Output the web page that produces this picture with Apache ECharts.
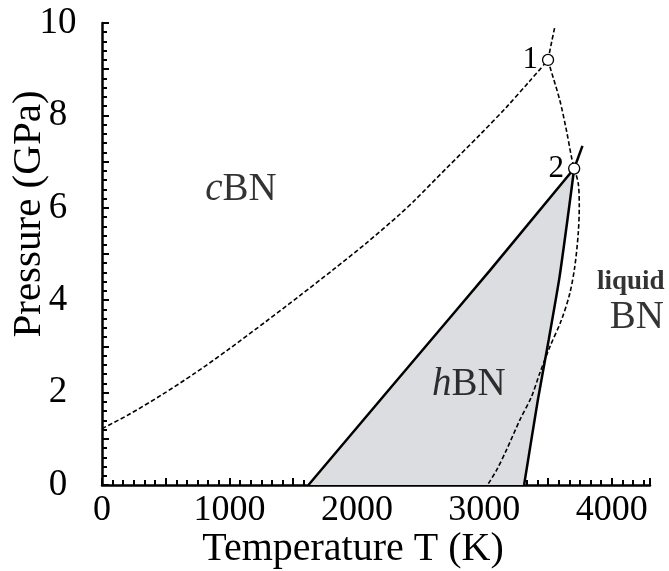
<!DOCTYPE html>
<html><head><meta charset="utf-8">
<script src="https://cdn.jsdelivr.net/npm/echarts@6/dist/echarts.min.js"></script>
<style>html,body{margin:0;padding:0;background:#fff}#c{width:669px;height:571px}</style>
</head><body><div id="c"></div>
<script>
// ---- data (Temperature K, Pressure GPa) ----
const xTickLabels = [0, 1000, 2000, 3000, 4000];
const yTickLabels = [0, 2, 4, 6, 8, 10];

const cbnHbnDashed = [[0,1.22],[207,1.52],[468,1.95],[729,2.42],[985,2.92],[1292,3.55],[1553,4.1],[1814,4.66],[2076,5.24],[2337,5.86],[2460,6.18],[2704,6.86],[2965,7.58],[3174,8.18],[3355,8.74],[3500,9.2]];
const dashedAbove1 = [[3500,9.2],[3529,9.6],[3552,9.9]];
const dashed1to2 = [[3500,9.2],[3514,9.06],[3592,8.33],[3644,7.68],[3683,7.11],[3705,6.85]];
const dashed2toBase = [[3705,6.85],[3737,6.53],[3745,6.03],[3737,5.45],[3710,4.73],[3671,4.15],[3605,3.57],[3514,2.99],[3435,2.42],[3370,1.91],[3279,1.41],[3174,0.76],[3096,0.32],[3025,0]];
const hbnLeftSolid = [[1620,0],[2263,2.1],[2785,3.8],[3046,4.65],[3705,6.85]];
const hbnRightSolid = [[3312,0],[3420,1.84],[3505,3.14],[3590,4.5],[3660,5.9],[3705,6.85]];
const rightSolidAbove2 = [[3705,6.85],[3770,7.34]];
const triplePoints = [[3500,9.2],[3705,6.85]];
const triplePointNames = ['1','2'];
const regionTexts = ['{i|c}{r|BN}', '{i|h}{r|BN}', '{b|liquid}', '{r|BN}'];
const regionAnchors = [[1090,6.4],[2879,2.16],[4149,4.4],[4196,3.62]];

const FONT = 'Liberation Serif';
const INK = '#000';
const chart = echarts.init(document.getElementById('c'), null, {renderer:'canvas'});

const dashStyle = {color:INK, width:1.6, type:[4.5,2.5]};
const solidStyle = {color:INK, width:2.5};

function lineSeries(data, style, smooth){
  return {type:'line', data:data, symbol:'none', showSymbol:false, smooth:smooth||false,
          lineStyle:style, z:3, silent:true, clip:false};
}

chart.setOption({
  animation:false,
  backgroundColor:'#fff',
  grid:{left:102, right:19, top:23, bottom:86, containLabel:false, outerBoundsMode:'none'},
  xAxis:{
    type:'value', min:0, max:4300, interval:500,
    name:'Temperature T (K)', nameLocation:'middle', nameGap:44, nameMoveOverlap:false,
    nameTextStyle:{fontFamily:FONT, fontSize:40, color:INK, padding:[0,46,0,0]},
    axisLine:{show:true, lineStyle:{color:INK, width:2.5}},
    axisTick:{show:true, inside:true, length:7, lineStyle:{color:INK, width:2}},
    minorTick:{show:true, splitNumber:6, length:5, lineStyle:{color:INK, width:2}},
    axisLabel:{fontFamily:FONT, fontSize:36, color:INK, margin:8,
      formatter:v => xTickLabels.includes(v) ? String(v) : ''},
    splitLine:{show:false}
  },
  yAxis:{
    type:'value', min:0, max:10, interval:1,
    name:'Pressure (GPa)', nameLocation:'middle', nameGap:52, nameRotate:90, nameMoveOverlap:false,
    nameTextStyle:{fontFamily:FONT, fontSize:41, color:INK, padding:[0,0,0,80]},
    axisLine:{show:true, lineStyle:{color:INK, width:2.5}},
    axisTick:{show:true, inside:true, length:7, lineStyle:{color:INK, width:2}},
    minorTick:{show:true, splitNumber:5, length:5, lineStyle:{color:INK, width:2}},
    axisLabel:{fontFamily:FONT, fontSize:37, color:INK, margin:44, align:'center',
      formatter:v => yTickLabels.includes(v) ? String(v) : ''},
    splitLine:{show:false}
  },
  series:[
    {type:'custom', coordinateSystem:'cartesian2d', data:[[0,0]], z:1, silent:true,
     renderItem:function(params, api){
       const pts = hbnLeftSolid.concat(hbnRightSolid.slice().reverse()).map(p => api.coord(p));
       return {type:'polygon', shape:{points:pts}, style:{fill:'#dcdde0', stroke:null}};
     }},
    lineSeries(cbnHbnDashed, dashStyle, 0.3),
    lineSeries(dashedAbove1, dashStyle, 0.3),
    lineSeries(dashed1to2, dashStyle, 0.3),
    lineSeries(dashed2toBase, dashStyle, 0.3),
    lineSeries(hbnLeftSolid, solidStyle, false),
    lineSeries(hbnRightSolid, solidStyle, 0.2),
    lineSeries(rightSolidAbove2, solidStyle, false),
    {type:'scatter', data:triplePoints, symbol:'circle', symbolSize:11, z:5, silent:true,
     itemStyle:{color:'#fff', borderColor:INK, borderWidth:1.3, opacity:1},
     label:{show:true, position:'left', distance:4, fontFamily:FONT, fontSize:31, color:INK,
       formatter:p => triplePointNames[p.dataIndex]}},
    {type:'scatter', data:regionAnchors, symbol:'circle', symbolSize:0, z:6, silent:true, clip:false,
     itemStyle:{color:'rgba(0,0,0,0)'},
     label:{show:true, position:'inside', color:INK,
       formatter:p => regionTexts[p.dataIndex],
       rich:{
         i:{fontFamily:FONT, fontStyle:'italic', fontSize:39, color:INK},
         r:{fontFamily:FONT, fontSize:39, color:INK},
         b:{fontFamily:FONT, fontWeight:'bold', fontSize:27, color:INK}
       }}}
  ]
});
</script></body></html>
